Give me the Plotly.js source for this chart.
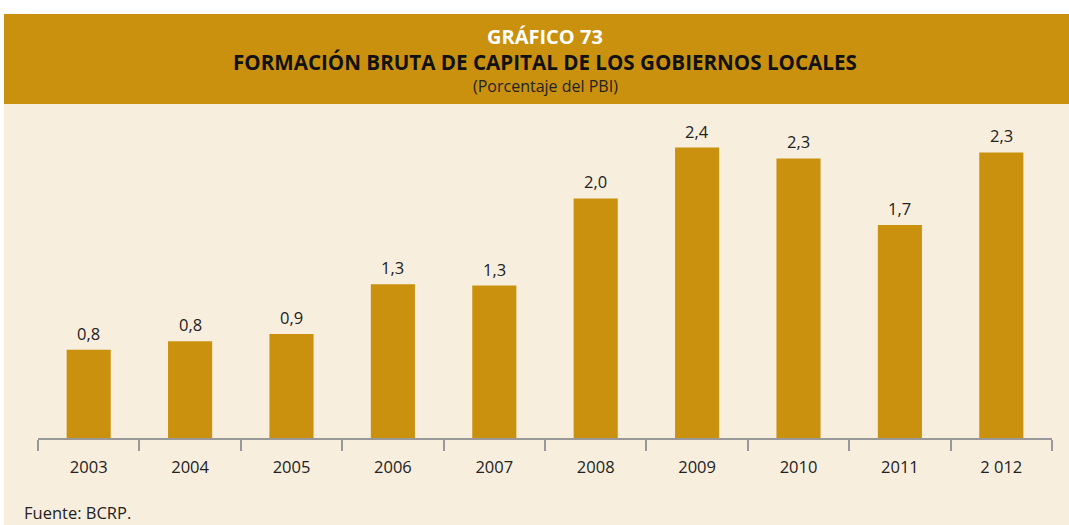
<!DOCTYPE html>
<html><head><meta charset="utf-8">
<script src="https://cdn.plot.ly/plotly-3.0.1.min.js"></script>
<style>html,body{margin:0;padding:0;background:#fff;}#chart{position:absolute;left:4px;top:14px;width:1065px;height:511px;}</style>
</head><body><div id="chart"></div>
<script>
const categories = ["2003","2004","2005","2006","2007","2008","2009","2010","2011","2012"];
const tickLabels = ["2003","2004","2005","2006","2007","2008","2009","2010","2011","2 012"];
const values = [0.73, 0.80, 0.86, 1.27, 1.26, 1.98, 2.40, 2.31, 1.76, 2.36];
const valueLabels = ["0,8","0,8","0,9","1,3","1,3","2,0","2,4","2,3","1,7","2,3"];

const GOLD = "#C9910E", CREAM = "#F7EEDD";
const FONT = "Open Sans, Noto Sans, sans-serif";
const W = 1065, H = 511, mL = 34, mR = 17, mT = 110, mB = 87;
const pw = W - mL - mR, ph = H - mT - mB;
const px2x = p => (p - mL) / pw;
const py2y = p => (H - mB - p) / ph;

const annotations = categories.map((c, i) => ({
  x: i, y: values[i], xref: "x", yref: "y", text: valueLabels[i], showarrow: false,
  xanchor: "center", yanchor: "bottom", yshift: 3, font: {family: FONT, size: 16.5, color: "#222"}
}));
annotations.push(
  {xref: "paper", yref: "paper", x: px2x(541), y: py2y(23), xanchor: "center", yanchor: "middle",
   text: "<b>GRÁFICO 73</b>", showarrow: false, font: {family: FONT, size: 20, color: "#fff"}},
  {xref: "paper", yref: "paper", x: px2x(541), y: py2y(48), xanchor: "center", yanchor: "middle",
   text: "<b>FORMACIÓN BRUTA DE CAPITAL DE LOS GOBIERNOS LOCALES</b>", showarrow: false,
   font: {family: FONT, size: 20.6, color: "#111"}},
  {xref: "paper", yref: "paper", x: px2x(541), y: py2y(72), xanchor: "center", yanchor: "middle",
   text: "(Porcentaje del PBI)", showarrow: false, font: {family: FONT, size: 16, color: "#222"}},
  {xref: "paper", yref: "paper", x: px2x(18), y: py2y(498), xanchor: "left", yanchor: "middle",
   text: "Fuente: BCRP.", showarrow: false, font: {family: FONT, size: 16.5, color: "#222"}}
);

Plotly.newPlot("chart", [{
  type: "bar", x: categories, y: values, marker: {color: GOLD}, width: 0.435, hoverinfo: "none"
}], {
  width: W, height: H, margin: {l: mL, r: mR, t: mT, b: mB, pad: 0},
  paper_bgcolor: CREAM, plot_bgcolor: "rgba(0,0,0,0)", showlegend: false,
  xaxis: {type: "category", range: [-0.5, 9.5], tickvals: categories, ticktext: tickLabels, tickson: "boundaries",
    ticks: "outside", ticklen: 11, tickwidth: 2, tickcolor: "#999", showline: true, linecolor: "#999", linewidth: 2,
    showgrid: false, zeroline: false, tickfont: {family: FONT, size: 16.5, color: "#222"}, ticklabelstandoff: 13},
  yaxis: {range: [0, ph / 121], visible: false, showgrid: false, zeroline: false},
  shapes: [{type: "rect", xref: "paper", yref: "paper", x0: px2x(0), x1: px2x(W), y0: py2y(0), y1: py2y(90),
    fillcolor: GOLD, line: {width: 0}, layer: "below"}],
  annotations: annotations
}, {staticPlot: true});
</script></body></html>
